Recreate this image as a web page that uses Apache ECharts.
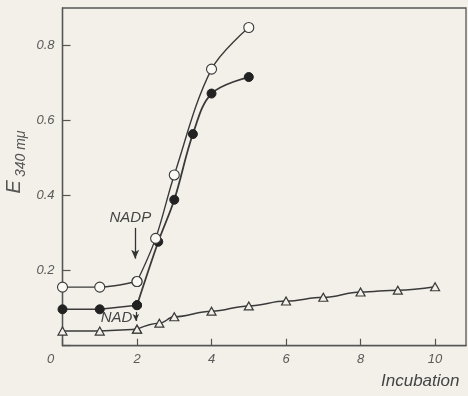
<!DOCTYPE html>
<html><head><meta charset="utf-8">
<script src="https://cdn.jsdelivr.net/npm/echarts@6/dist/echarts.min.js"></script>
<style>html,body{margin:0;padding:0;background:#f3f0e9}#c{width:468px;height:396px}</style>
</head><body><div id="c"></div>
<script>
// Data
var nadpOpenX = [0, 1, 2, 2.5, 3, 4, 5];
var nadpOpenY = [0.156, 0.156, 0.171, 0.286, 0.455, 0.737, 0.848];
var nadpFilledX = [0, 1, 2, 2.57, 3, 3.5, 4, 5];
var nadpFilledY = [0.097, 0.097, 0.108, 0.277, 0.389, 0.564, 0.672, 0.716];
var nadX = [0, 1, 2, 2.6, 3, 4, 5, 6, 7, 8, 9, 10];
var nadY = [0.039, 0.039, 0.044, 0.060, 0.077, 0.092, 0.106, 0.119, 0.129, 0.143, 0.148, 0.157];
var xTicks = [0, 2, 4, 6, 8, 10];
var yTicks = [0.2, 0.4, 0.6, 0.8];
var addTime = 2; // NADP / NAD added at 2 min

function pairs(xs, ys) { return xs.map(function (x, i) { return [x, ys[i]]; }); }
function before(xs, ys) { return pairs(xs, ys).filter(function (p) { return p[0] <= addTime; }); }
function after(xs, ys) { return pairs(xs, ys).filter(function (p) { return p[0] >= addTime; }); }

var ink = '#3a3a3a';
var bg = '#f3f0e9';
var font = 'Liberation Sans';

function noteLabel(txt) {
  return {show: true, position: 'inside', formatter: txt, color: '#444', fontFamily: font, fontStyle: 'italic', fontSize: 15};
}

var chart = echarts.init(document.getElementById('c'), null, {renderer: 'canvas'});
chart.setOption({
  backgroundColor: bg,
  animation: false,
  grid: {left: 62.5, right: 2, top: 8, bottom: 50.3, show: true, borderColor: '#555', borderWidth: 1.3, backgroundColor: 'transparent'},
  xAxis: {
    type: 'value', min: 0, max: 10.83, interval: 2,
    axisLine: {show: true, onZero: false, lineStyle: {color: '#555', width: 1.3}},
    axisTick: {show: true, inside: true, length: 7, lineStyle: {color: '#555', width: 1.2}},
    splitLine: {show: false},
    axisLabel: {
      showMaxLabel: false, margin: 7, color: '#5a5a5a', fontFamily: font, fontStyle: 'italic', fontSize: 13,
      formatter: function (v) {
        if (xTicks.indexOf(v) < 0) return '';
        return v === 0 ? '{o|0}' : String(v);
      },
      rich: {o: {padding: [0, 24, 0, 0], color: '#5a5a5a', fontFamily: font, fontStyle: 'italic', fontSize: 13}}
    }
  },
  yAxis: {
    type: 'value', min: 0, max: 0.9, interval: 0.2,
    axisLine: {show: true, onZero: false, lineStyle: {color: '#555', width: 1.3}},
    axisTick: {show: true, inside: true, length: 8, lineStyle: {color: '#555', width: 1.2}},
    splitLine: {show: false},
    axisLabel: {
      showMaxLabel: false, margin: 8, color: '#5a5a5a', fontFamily: font, fontStyle: 'italic', fontSize: 13,
      formatter: function (v) {
        for (var i = 0; i < yTicks.length; i++) if (Math.abs(yTicks[i] - v) < 1e-6) return yTicks[i].toFixed(1);
        return '';
      }
    }
  },
  graphic: [
    {
      type: 'text', x: 18, y: 162, rotation: Math.PI / 2,
      style: {
        text: '{e|E}{s|340 mμ}', fill: '#555',
        align: 'center', verticalAlign: 'middle',
        rich: {
          e: {fontSize: 20, fontFamily: font, fontStyle: 'italic', fill: '#555', padding: [0, 3, 7, 0]},
          s: {fontSize: 14, fontFamily: font, fontStyle: 'italic', fill: '#555', padding: [7, 0, 0, 0]}
        }
      }
    },
    {
      type: 'text', left: 381, top: 373,
      style: {text: 'Incubation', fill: '#444', font: 'italic 17px "Liberation Sans"'}
    }
  ],
  series: [
    {
      type: 'line', data: before(nadX, nadY), smooth: false,
      symbol: 'triangle', symbolSize: [9, 8],
      lineStyle: {color: ink, width: 1.5},
      itemStyle: {color: bg, borderColor: ink, borderWidth: 1.2},
      markPoint: {
        symbol: 'circle', symbolSize: 1, itemStyle: {color: 'rgba(0,0,0,0)'},
        data: [{coord: [1.45, 0.074], value: 0, label: noteLabel('NAD')}]
      },
      markLine: {
        silent: true, symbol: ['none', 'arrow'], symbolSize: [5, 7],
        lineStyle: {color: '#333', width: 1.2, type: 'solid'}, label: {show: false},
        data: [[{coord: [1.97, 0.09]}, {coord: [1.97, 0.066]}]]
      }
    },
    {
      type: 'line', data: after(nadX, nadY), smooth: 0.4, smoothMonotone: 'x',
      symbol: 'triangle', symbolSize: [9, 8],
      lineStyle: {color: ink, width: 1.5},
      itemStyle: {color: bg, borderColor: ink, borderWidth: 1.2}
    },
    {
      type: 'line', data: before(nadpFilledX, nadpFilledY), smooth: false,
      symbol: 'circle', symbolSize: 9,
      lineStyle: {color: ink, width: 1.6},
      itemStyle: {color: '#222', borderColor: '#222', borderWidth: 1}
    },
    {
      type: 'line', data: after(nadpFilledX, nadpFilledY), smooth: 0.35,
      symbol: 'circle', symbolSize: 9,
      lineStyle: {color: ink, width: 1.8},
      itemStyle: {color: '#222', borderColor: '#222', borderWidth: 1}
    },
    {
      type: 'line', data: before(nadpOpenX, nadpOpenY), smooth: 0.3,
      symbol: 'circle', symbolSize: 10,
      lineStyle: {color: ink, width: 1.4},
      itemStyle: {color: '#fbf9f4', borderColor: ink, borderWidth: 1.1},
      markPoint: {
        symbol: 'circle', symbolSize: 1, itemStyle: {color: 'rgba(0,0,0,0)'},
        data: [{coord: [1.82, 0.34], value: 0, label: noteLabel('NADP')}]
      },
      markLine: {
        silent: true, symbol: ['none', 'arrow'], symbolSize: [6, 9],
        lineStyle: {color: '#333', width: 1.3, type: 'solid'}, label: {show: false},
        data: [[{coord: [1.95, 0.314]}, {coord: [1.95, 0.232]}]]
      }
    },
    {
      type: 'line', data: after(nadpOpenX, nadpOpenY), smooth: 0.35,
      symbol: 'circle', symbolSize: 10,
      lineStyle: {color: ink, width: 1.4},
      itemStyle: {color: '#fbf9f4', borderColor: ink, borderWidth: 1.1}
    }
  ]
});
</script></body></html>
